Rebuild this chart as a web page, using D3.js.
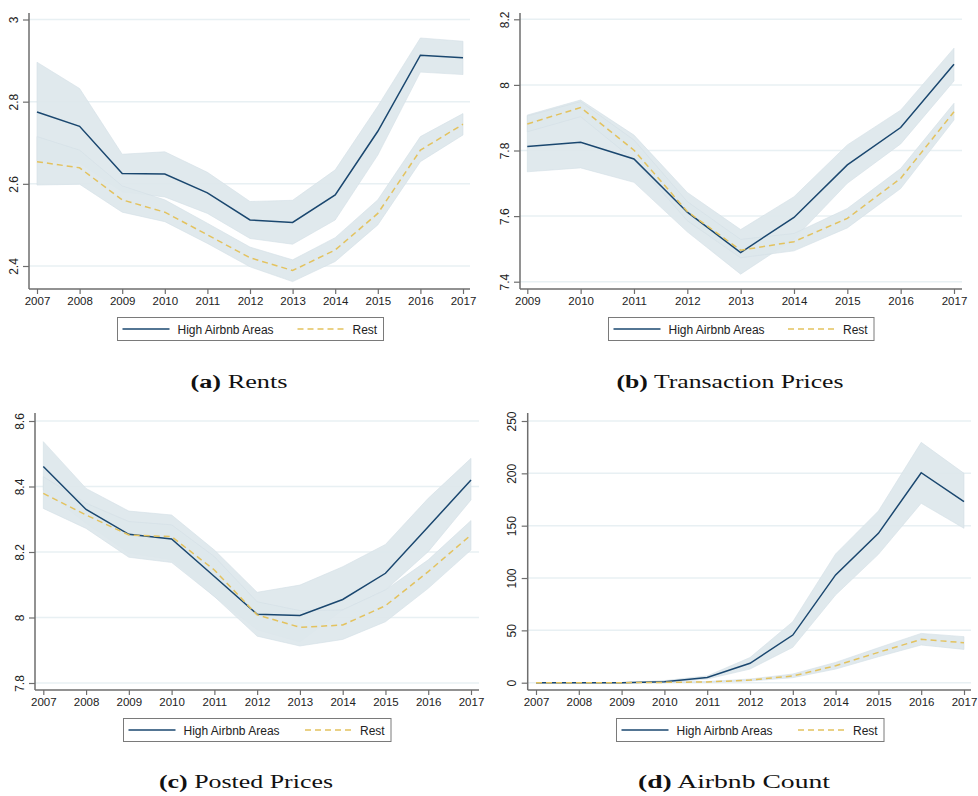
<!DOCTYPE html>
<html>
<head>
<meta charset="utf-8">
<script src="https://cdn.jsdelivr.net/npm/d3@7/dist/d3.min.js"></script>
<style>
  html, body { margin: 0; padding: 0; background: #ffffff; }
  svg { display: block; }
</style>
</head>
<body>
<svg id="chart" width="978" height="796"></svg>
<script>
// ---------------- DATA ----------------
const years0717 = [2007, 2008, 2009, 2010, 2011, 2012, 2013, 2014, 2015, 2016, 2017];
const years0917 = [2009, 2010, 2011, 2012, 2013, 2014, 2015, 2016, 2017];

const seriesNames = ["High Airbnb Areas", "Rest"];

// (a) Rents
const rentsHigh   = [2.775, 2.740, 2.625, 2.624, 2.578, 2.512, 2.506, 2.573, 2.728, 2.913, 2.907];
const rentsHighHi = [2.896, 2.832, 2.672, 2.678, 2.628, 2.557, 2.560, 2.634, 2.789, 2.955, 2.947];
const rentsHighLo = [2.655, 2.650, 2.580, 2.568, 2.528, 2.467, 2.453, 2.512, 2.670, 2.872, 2.866];
const rentsRest   = [2.654, 2.639, 2.561, 2.531, 2.476, 2.420, 2.389, 2.439, 2.528, 2.682, 2.745];
const rentsRestHi = [2.715, 2.682, 2.595, 2.561, 2.504, 2.446, 2.415, 2.469, 2.561, 2.715, 2.771];
const rentsRestLo = [2.597, 2.599, 2.531, 2.508, 2.455, 2.398, 2.362, 2.411, 2.500, 2.654, 2.719];
const rentsTicks  = [2.4, 2.6, 2.8, 3];
const rentsTickLabels = ["2.4", "2.6", "2.8", "3"];

// (b) Transaction Prices
const transHigh   = [7.812, 7.825, 7.774, 7.612, 7.489, 7.596, 7.756, 7.870, 8.063];
const transHighHi = [7.908, 7.954, 7.847, 7.672, 7.559, 7.659, 7.817, 7.923, 8.112];
const transHighLo = [7.735, 7.747, 7.703, 7.552, 7.423, 7.530, 7.700, 7.820, 8.012];
const transRest   = [7.881, 7.931, 7.801, 7.614, 7.496, 7.522, 7.593, 7.715, 7.918];
const transRestHi = [7.905, 7.949, 7.832, 7.644, 7.529, 7.547, 7.623, 7.745, 7.944];
const transRestLo = [7.857, 7.903, 7.771, 7.586, 7.473, 7.494, 7.564, 7.684, 7.893];
const transTicks  = [7.4, 7.6, 7.8, 8, 8.2];
const transTickLabels = ["7.4", "7.6", "7.8", "8", "8.2"];

// (c) Posted Prices
const postedHigh   = [8.461, 8.330, 8.254, 8.240, 8.125, 8.010, 8.006, 8.055, 8.135, 8.277, 8.420];
const postedHighHi = [8.537, 8.394, 8.325, 8.313, 8.206, 8.077, 8.099, 8.155, 8.223, 8.364, 8.486];
const postedHighLo = [8.389, 8.287, 8.196, 8.176, 8.064, 7.962, 7.925, 8.023, 8.084, 8.201, 8.359];
const postedRest   = [8.379, 8.313, 8.252, 8.247, 8.145, 8.008, 7.970, 7.977, 8.036, 8.140, 8.252];
const postedRestHi = [8.430, 8.349, 8.293, 8.283, 8.186, 8.048, 8.021, 8.023, 8.084, 8.176, 8.296];
const postedRestLo = [8.333, 8.272, 8.184, 8.168, 8.064, 7.943, 7.913, 7.933, 7.987, 8.089, 8.206];
const postedTicks  = [7.8, 8, 8.2, 8.4, 8.6];
const postedTickLabels = ["7.8", "8", "8.2", "8.4", "8.6"];

// (d) Airbnb Count
const countHigh   = [0, 0, 0, 1.0, 5.0, 18.5, 45.5, 103, 142.7, 200.6, 173];
const countHighHi = [0, 0, 0, 2.0, 6.5, 24.0, 58.3, 123, 164.0, 229.6, 200];
const countHighLo = [0, 0, 0, 0.0, 3.5, 13.0, 33.8, 83.8, 122.6, 171.4, 147.5];
const countRest   = [0, 0, 0, 0.3, 0.7, 2.5, 6.4, 16.2, 29.0, 41.4, 38.2];
const countRestHi = [0, 0, 0, 0.5, 1.2, 3.5, 8.3, 19.4, 33.4, 47.1, 44.0];
const countRestLo = [0, 0, 0, 0.1, 0.4, 1.6, 4.8, 13.0, 24.8, 36.0, 31.8];
const countTicks  = [0, 50, 100, 150, 200, 250];
const countTickLabels = ["0", "50", "100", "150", "200", "250"];

// ---------------- STYLE ----------------
const NAVY = "#1a476f";
const GOLD = "#e3c25e";
const BAND = "#dde7ec";
const GRID = "#e8f0f3";
const AXIS = "#6e6e6e";
const SANS = "'Liberation Sans', Arial, Helvetica, sans-serif";
const SERIF = "'Liberation Serif', 'DejaVu Serif', serif";

const svg = d3.select("#chart");

function drawPanel(p) {
  const g = svg.append("g");
  const x = d3.scaleLinear().domain([p.years[0], p.years[p.years.length - 1]]).range([p.x0, p.x1]);
  const y = d3.scaleLinear().domain([p.ticks[0], p.ticks[p.ticks.length - 1]]).range([p.yBot, p.yTop]);

  // gridlines
  g.append("g").selectAll("line").data(p.ticks).join("line")
    .attr("x1", p.axisX).attr("x2", p.axisRight)
    .attr("y1", d => y(d)).attr("y2", d => y(d))
    .attr("stroke", GRID).attr("stroke-width", 1.5);

  const rows = p.years.map((yr, i) => ({
    yr, h: p.high[i], hHi: p.highHi[i], hLo: p.highLo[i],
    r: p.rest[i], rHi: p.restHi[i], rLo: p.restLo[i]
  }));

  const areaH = d3.area().x(d => x(d.yr)).y0(d => y(d.hLo)).y1(d => y(d.hHi));
  const areaR = d3.area().x(d => x(d.yr)).y0(d => y(d.rLo)).y1(d => y(d.rHi));
  g.append("path").datum(rows).attr("d", areaH).attr("fill", BAND).attr("fill-opacity", 0.92)
    .attr("stroke", "#d3dfe5").attr("stroke-width", 0.6);
  g.append("path").datum(rows).attr("d", areaR).attr("fill", BAND).attr("fill-opacity", 0.92)
    .attr("stroke", "#d3dfe5").attr("stroke-width", 0.6);

  const lineH = d3.line().x(d => x(d.yr)).y(d => y(d.h));
  const lineR = d3.line().x(d => x(d.yr)).y(d => y(d.r));
  g.append("path").datum(rows).attr("d", lineH).attr("fill", "none")
    .attr("stroke", NAVY).attr("stroke-width", 1.5);
  g.append("path").datum(rows).attr("d", lineR).attr("fill", "none")
    .attr("stroke", GOLD).attr("stroke-width", 1.5).attr("stroke-dasharray", "6,4");

  // y axis
  const yAxis = d3.axisLeft(y).tickValues(p.ticks).tickFormat((d, i) => p.tickLabels[i])
    .tickSize(6).tickSizeOuter(0);
  const ya = g.append("g").attr("transform", `translate(${p.axisX},0)`).call(yAxis);
  ya.select(".domain").remove();
  ya.selectAll(".tick line").attr("stroke", AXIS).attr("stroke-width", 1.2);
  ya.selectAll(".tick text")
    .attr("transform", "rotate(-90)")
    .attr("x", 0).attr("y", -11.5).attr("dy", 0)
    .attr("text-anchor", "middle")
    .attr("fill", "#222").style("font-family", SANS).style("font-size", "12px");
  g.append("line").attr("x1", p.axisX).attr("x2", p.axisX)
    .attr("y1", p.axisTop).attr("y2", p.axisBottom)
    .attr("stroke", AXIS).attr("stroke-width", 1.5);

  // x axis
  const xAxis = d3.axisBottom(x).tickValues(p.years).tickFormat(d3.format("d"))
    .tickSize(5).tickSizeOuter(0);
  const xa = g.append("g").attr("transform", `translate(0,${p.axisBottom})`).call(xAxis);
  xa.select(".domain").remove();
  xa.selectAll(".tick line").attr("stroke", AXIS).attr("stroke-width", 1.2);
  xa.selectAll(".tick text").attr("y", 16).attr("dy", 0)
    .attr("fill", "#222").style("font-family", SANS).style("font-size", "11.5px");
  g.append("line").attr("x1", p.axisX).attr("x2", p.axisRight)
    .attr("y1", p.axisBottom).attr("y2", p.axisBottom)
    .attr("stroke", AXIS).attr("stroke-width", 1.5);

  // legend
  const L = p.legend;
  const lg = g.append("g").attr("transform", `translate(${L.x},${L.y})`);
  lg.append("rect").attr("x", 0).attr("y", 0).attr("width", L.w).attr("height", 23)
    .attr("fill", "#fff").attr("stroke", "#7a7a7a").attr("stroke-width", 1);
  lg.append("line").attr("x1", 5).attr("x2", 52).attr("y1", 11.5).attr("y2", 11.5)
    .attr("stroke", NAVY).attr("stroke-width", 1.5);
  lg.append("text").attr("x", 60).attr("y", 16).text(seriesNames[0])
    .attr("fill", "#222").style("font-family", SANS).style("font-size", "12px");
  lg.append("line").attr("x1", L.w - 86).attr("x2", L.w - 38).attr("y1", 11.5).attr("y2", 11.5)
    .attr("stroke", GOLD).attr("stroke-width", 1.5).attr("stroke-dasharray", "6,4");
  lg.append("text").attr("x", L.w - 31).attr("y", 16).text(seriesNames[1])
    .attr("fill", "#222").style("font-family", SANS).style("font-size", "12px");

  // caption
  const cap = g.append("text").attr("x", p.capX).attr("y", p.capY).attr("text-anchor", "middle")
    .attr("textLength", p.capW).attr("lengthAdjust", "spacingAndGlyphs")
    .style("font-family", SERIF).style("font-size", "18.5px").attr("fill", "#111");
  cap.append("tspan").style("font-weight", "bold").text(p.capLetter);
  cap.append("tspan").text(" " + p.capText);
}

drawPanel({
  years: years0717, high: rentsHigh, highHi: rentsHighHi, highLo: rentsHighLo,
  rest: rentsRest, restHi: rentsRestHi, restLo: rentsRestLo,
  ticks: rentsTicks, tickLabels: rentsTickLabels,
  x0: 37, x1: 463, yBot: 266, yTop: 19.5,
  axisX: 29, axisRight: 470, axisTop: 13, axisBottom: 289,
  legend: { x: 117.5, y: 317.5, w: 266 },
  capX: 239, capY: 388, capW: 97, capLetter: "(a)", capText: "Rents"
});

drawPanel({
  years: years0917, high: transHigh, highHi: transHighHi, highLo: transHighLo,
  rest: transRest, restHi: transRestHi, restLo: transRestLo,
  ticks: transTicks, tickLabels: transTickLabels,
  x0: 527.3, x1: 954, yBot: 281.7, yTop: 19.3,
  axisX: 520, axisRight: 962, axisTop: 13, axisBottom: 289,
  legend: { x: 608.5, y: 317.5, w: 265.5 },
  capX: 730, capY: 388, capW: 227, capLetter: "(b)", capText: "Transaction Prices"
});

drawPanel({
  years: years0717, high: postedHigh, highHi: postedHighHi, highLo: postedHighLo,
  rest: postedRest, restHi: postedRestHi, restLo: postedRestLo,
  ticks: postedTicks, tickLabels: postedTickLabels,
  x0: 43.3, x1: 471, yBot: 683, yTop: 421,
  axisX: 35, axisRight: 479, axisTop: 413, axisBottom: 690,
  legend: { x: 123.5, y: 718.5, w: 267.5 },
  capX: 246, capY: 788, capW: 174, capLetter: "(c)", capText: "Posted Prices"
});

drawPanel({
  years: years0717, high: countHigh, highHi: countHighHi, highLo: countHighLo,
  rest: countRest, restHi: countRestHi, restLo: countRestLo,
  ticks: countTicks, tickLabels: countTickLabels,
  x0: 536, x1: 964, yBot: 682.7, yTop: 421,
  axisX: 527.7, axisRight: 971, axisTop: 413, axisBottom: 690,
  legend: { x: 616.5, y: 718.5, w: 267.5 },
  capX: 734, capY: 788, capW: 192, capLetter: "(d)", capText: "Airbnb Count"
});
</script>
</body>
</html>
